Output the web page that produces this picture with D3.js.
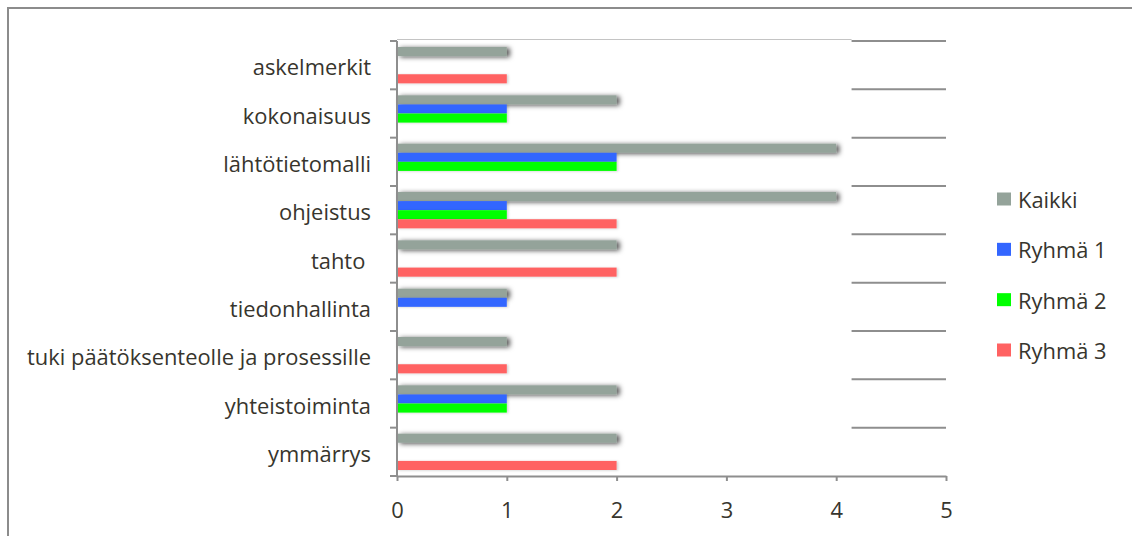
<!DOCTYPE html>
<html>
<head>
<meta charset="utf-8">
<script src="https://cdn.jsdelivr.net/npm/d3@7"></script>
<style>
  html, body { margin: 0; padding: 0; background: #fff; }
  svg { display: block; }
  text { font-family: "Open Sans", "Noto Sans", sans-serif; fill: #37352d; }
</style>
</head>
<body>
<svg id="chart" width="1132" height="536"></svg>
<script>
// Categories, top to bottom
const categories = [
  "askelmerkit",
  "kokonaisuus",
  "lähtötietomalli",
  "ohjeistus",
  "tahto ",
  "tiedonhallinta",
  "tuki päätöksenteolle ja prosessille",
  "yhteistoiminta",
  "ymmärrys"
];

const seriesNames = ["Kaikki", "Ryhmä 1", "Ryhmä 2", "Ryhmä 3"];

// Counts per category for each series
const kaikki = [1, 2, 4, 4, 2, 1, 1, 2, 2];
const ryhma1 = [0, 1, 2, 1, 0, 1, 0, 1, 0];
const ryhma2 = [0, 1, 2, 1, 0, 0, 0, 1, 0];
const ryhma3 = [1, 0, 0, 2, 2, 0, 1, 0, 2];

const xTicks = [0, 1, 2, 3, 4, 5];

const colors = ["#94a39a", "#3366ff", "#00ff00", "#ff6262"];

const seriesValues = [kaikki, ryhma1, ryhma2, ryhma3];

const FONT = 21.9;

const svg = d3.select("#chart");

// Outer frame
svg.append("rect")
  .attr("x", 8).attr("y", 8)
  .attr("width", 1140).attr("height", 540)
  .attr("fill", "none")
  .attr("stroke", "#8c8c8c")
  .attr("stroke-width", 2);

const plot = { left: 397, right: 946, top: 41, bottom: 476 };

const x = d3.scaleLinear().domain([0, 5]).range([plot.left, plot.right]);
const y = d3.scaleBand().domain(categories).range([plot.top, plot.bottom]).padding(0);
const inner = d3.scaleBand().domain(seriesNames)
  .range([6, y.bandwidth() - 6]).padding(0);

// Soft shadows behind the bars
const defs = svg.append("defs");
const f = defs.append("filter").attr("id", "shadow")
  .attr("x", "-10%").attr("y", "-100%").attr("width", "120%").attr("height", "300%");
f.append("feDropShadow")
  .attr("dx", 3).attr("dy", 1)
  .attr("stdDeviation", 2.5)
  .attr("flood-color", "#000")
  .attr("flood-opacity", 0.7);
const f2 = defs.append("filter").attr("id", "shadowLight")
  .attr("x", "-10%").attr("y", "-60%").attr("width", "120%").attr("height", "220%");
f2.append("feDropShadow")
  .attr("dx", 1.5).attr("dy", 0.5)
  .attr("stdDeviation", 1)
  .attr("flood-color", "#000")
  .attr("flood-opacity", 0.18);

// Grid: faint back edge across the top, darker segments on the right
const gridStart = 4.14;
svg.append("line")
  .attr("x1", x(0)).attr("x2", x(gridStart))
  .attr("y1", plot.top - 1.5).attr("y2", plot.top - 1.5)
  .attr("stroke", "#c4c4c4").attr("stroke-width", 1);

const boundaries = categories.map(c => y(c));
svg.append("g").selectAll("line")
  .data(boundaries)
  .join("line")
  .attr("x1", x(gridStart)).attr("x2", x(5))
  .attr("y1", d => d).attr("y2", d => d)
  .attr("stroke", "#8e8e8e").attr("stroke-width", 2);

// Bars
const rows = [];
categories.forEach((c, i) => {
  seriesNames.forEach((s, j) => {
    rows.push({ cat: c, series: s, idx: j, value: seriesValues[j][i] });
  });
});

svg.append("g").selectAll("rect")
  .data(rows.filter(d => d.value > 0))
  .join("rect")
  .attr("x", x(0))
  .attr("y", d => y(d.cat) + inner(d.series))
  .attr("width", d => x(d.value) - x(0))
  .attr("height", inner.bandwidth())
  .attr("fill", d => colors[d.idx])
  .attr("filter", d => d.idx === 0 ? "url(#shadow)" : "url(#shadowLight)");

// Value axis
const xAxis = d3.axisBottom(x).tickValues(xTicks).tickFormat(d3.format("d"))
  .tickSize(5).tickSizeOuter(0).tickPadding(21);
const gx = svg.append("g").attr("transform", `translate(0,${plot.bottom})`).call(xAxis);
gx.select(".domain").attr("stroke", "#8e8e8e").attr("stroke-width", 2);
gx.selectAll(".tick line").attr("stroke", "#8e8e8e").attr("stroke-width", 2);
gx.selectAll(".tick text").attr("font-size", FONT).attr("fill", "#37352d")
  .style("font-family", "'Open Sans', 'Noto Sans', sans-serif");

// Category axis: ticks on the band boundaries, labels centred in bands
const gy = svg.append("g");
gy.append("line")
  .attr("x1", plot.left).attr("x2", plot.left)
  .attr("y1", plot.top).attr("y2", plot.bottom)
  .attr("stroke", "#8e8e8e").attr("stroke-width", 2);
gy.selectAll("line.tk")
  .data(boundaries.concat([plot.bottom]))
  .join("line").attr("class", "tk")
  .attr("x1", plot.left - 7).attr("x2", plot.left)
  .attr("y1", d => d).attr("y2", d => d)
  .attr("stroke", "#8e8e8e").attr("stroke-width", 2);
gy.selectAll("text")
  .data(categories)
  .join("text")
  .attr("x", 371)
  .attr("y", d => y(d) + y.bandwidth() / 2 + 10)
  .attr("text-anchor", "end")
  .attr("font-size", FONT)
  .style("white-space", "pre")
  .text(d => d);

// Legend
const legend = svg.append("g");
const legendY = d3.scalePoint().domain(seriesNames).range([199, 350]);
legend.selectAll("rect")
  .data(seriesNames)
  .join("rect")
  .attr("x", 997).attr("y", d => legendY(d) - 6.5)
  .attr("width", 14).attr("height", 13)
  .attr("fill", (d, i) => colors[i]);
legend.selectAll("text")
  .data(seriesNames)
  .join("text")
  .attr("x", 1018).attr("y", d => legendY(d) + 9)
  .attr("font-size", FONT)
  .text(d => d);
</script>
</body>
</html>
